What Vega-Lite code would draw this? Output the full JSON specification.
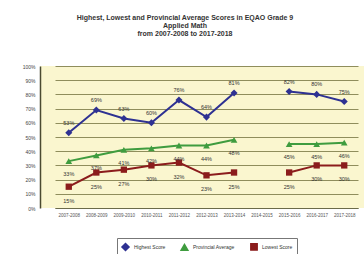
{
  "$schema": "https://vega.github.io/schema/vega-lite/v6.json",
  "width": 324,
  "height": 142,
  "autosize": "none",
  "padding": {"left": 40, "top": 66, "right": 0, "bottom": 46},
  "background": "white",
  "title": {
    "text": ["Highest, Lowest and Provincial Average Scores in EQAO Grade 9", "Applied Math", "from 2007-2008 to 2017-2018"],
    "fontSize": 7,
    "lineHeight": 8,
    "font": "Liberation Sans",
    "fontWeight": "bold",
    "color": "#333333",
    "offset": 27,
    "dx": -17,
    "anchor": "middle"
  },
  "data": {
    "values": [
      {"year": "2007-2008", "series": "Highest Score", "value": 0.53},
      {"year": "2008-2009", "series": "Highest Score", "value": 0.69},
      {"year": "2009-2010", "series": "Highest Score", "value": 0.63},
      {"year": "2010-2011", "series": "Highest Score", "value": 0.60},
      {"year": "2011-2012", "series": "Highest Score", "value": 0.76},
      {"year": "2012-2013", "series": "Highest Score", "value": 0.64},
      {"year": "2013-2014", "series": "Highest Score", "value": 0.81},
      {"year": "2014-2015", "series": "Highest Score", "value": null},
      {"year": "2015-2016", "series": "Highest Score", "value": 0.82},
      {"year": "2016-2017", "series": "Highest Score", "value": 0.80},
      {"year": "2017-2018", "series": "Highest Score", "value": 0.75},
      {"year": "2007-2008", "series": "Provincial Average", "value": 0.33},
      {"year": "2008-2009", "series": "Provincial Average", "value": 0.37},
      {"year": "2009-2010", "series": "Provincial Average", "value": 0.41},
      {"year": "2010-2011", "series": "Provincial Average", "value": 0.42},
      {"year": "2011-2012", "series": "Provincial Average", "value": 0.44},
      {"year": "2012-2013", "series": "Provincial Average", "value": 0.44},
      {"year": "2013-2014", "series": "Provincial Average", "value": 0.48},
      {"year": "2014-2015", "series": "Provincial Average", "value": null},
      {"year": "2015-2016", "series": "Provincial Average", "value": 0.45},
      {"year": "2016-2017", "series": "Provincial Average", "value": 0.45},
      {"year": "2017-2018", "series": "Provincial Average", "value": 0.46},
      {"year": "2007-2008", "series": "Lowest Score", "value": 0.15},
      {"year": "2008-2009", "series": "Lowest Score", "value": 0.25},
      {"year": "2009-2010", "series": "Lowest Score", "value": 0.27},
      {"year": "2010-2011", "series": "Lowest Score", "value": 0.30},
      {"year": "2011-2012", "series": "Lowest Score", "value": 0.32},
      {"year": "2012-2013", "series": "Lowest Score", "value": 0.23},
      {"year": "2013-2014", "series": "Lowest Score", "value": 0.25},
      {"year": "2014-2015", "series": "Lowest Score", "value": null},
      {"year": "2015-2016", "series": "Lowest Score", "value": 0.25},
      {"year": "2016-2017", "series": "Lowest Score", "value": 0.30},
      {"year": "2017-2018", "series": "Lowest Score", "value": 0.30}
    ]
  },
  "encoding": {
    "x": {
      "field": "year",
      "type": "nominal",
      "sort": null,
      "scale": {"type": "point", "range": [15, 318]},
      "axis": {
        "title": null,
        "labelAngle": 0,
        "labelFontSize": 4.5,
        "labelColor": "#555555",
        "labelFont": "Liberation Sans",
        "ticks": false,
        "domainColor": "#6b6b4a",
        "labelPadding": 4,
        "grid": false
      }
    },
    "y": {
      "field": "value",
      "type": "quantitative",
      "scale": {"domain": [0, 1]},
      "axis": {
        "title": null,
        "format": ".0%",
        "values": [0, 0.1, 0.2, 0.3, 0.4, 0.5, 0.6, 0.7, 0.8, 0.9, 1],
        "labelFontSize": 5,
        "labelColor": "#444444",
        "labelFont": "Liberation Sans",
        "ticks": false,
        "labelPadding": 5,
        "domainColor": "#4a4a30",
        "domainWidth": 1.5,
        "gridColor": "#8f8d5c",
        "gridWidth": 1
      }
    },
    "color": {
      "field": "series",
      "type": "nominal",
      "scale": {
        "domain": ["Highest Score", "Provincial Average", "Lowest Score"],
        "range": ["#2e3192", "#3f9c3f", "#8b1c1c"]
      },
      "legend": {
        "title": null,
        "orient": "none",
        "legendX": 77,
        "legendY": 172,
        "direction": "horizontal",
        "labelFontSize": 5,
        "labelFont": "Liberation Sans",
        "labelColor": "#333333",
        "symbolSize": 25,
        "strokeColor": "#777777",
        "padding": 4,
        "columnPadding": 12,
        "fillColor": "white"
      }
    }
  },
  "layer": [
    {
      "mark": {"type": "line", "strokeWidth": 2, "invalid": "break-paths-show-domains"}
    },
    {
      "mark": {"type": "point", "filled": true, "opacity": 1, "invalid": "break-paths-show-domains"},
      "encoding": {
        "shape": {
          "field": "series",
          "type": "nominal",
          "scale": {
            "domain": ["Highest Score", "Provincial Average", "Lowest Score"],
            "range": ["diamond", "triangle-up", "square"]
          },
          "legend": {
            "title": null,
            "orient": "none",
            "legendX": 77,
            "legendY": 172,
            "direction": "horizontal",
            "labelFontSize": 5,
            "labelFont": "Liberation Sans",
            "labelColor": "#333333",
            "symbolSize": 25,
            "strokeColor": "#777777",
            "padding": 4,
            "columnPadding": 12,
            "fillColor": "white"
          }
        },
        "size": {
          "field": "series",
          "type": "nominal",
          "scale": {
            "domain": ["Highest Score", "Provincial Average", "Lowest Score"],
            "range": [50, 40, 70]
          },
          "legend": null
        }
      }
    },
    {
      "transform": [{"filter": "datum.series === 'Highest Score' && datum.value != null"}],
      "mark": {"type": "text", "dy": -10, "fontSize": 5.5, "font": "Liberation Sans", "color": "#333333"},
      "encoding": {"text": {"field": "value", "type": "quantitative", "format": ".0%"}, "color": {"value": "#333333"}}
    },
    {
      "transform": [{"filter": "datum.series === 'Provincial Average' && datum.value != null"}],
      "mark": {"type": "text", "dy": 13, "fontSize": 5.5, "font": "Liberation Sans", "color": "#333333"},
      "encoding": {"text": {"field": "value", "type": "quantitative", "format": ".0%"}, "color": {"value": "#333333"}}
    },
    {
      "transform": [{"filter": "datum.series === 'Lowest Score' && datum.value != null"}],
      "mark": {"type": "text", "dy": 14, "fontSize": 5.5, "font": "Liberation Sans", "color": "#333333"},
      "encoding": {"text": {"field": "value", "type": "quantitative", "format": ".0%"}, "color": {"value": "#333333"}}
    }
  ],
  "config": {
    "view": {"fill": "#faf6cf", "stroke": null}
  }
}
